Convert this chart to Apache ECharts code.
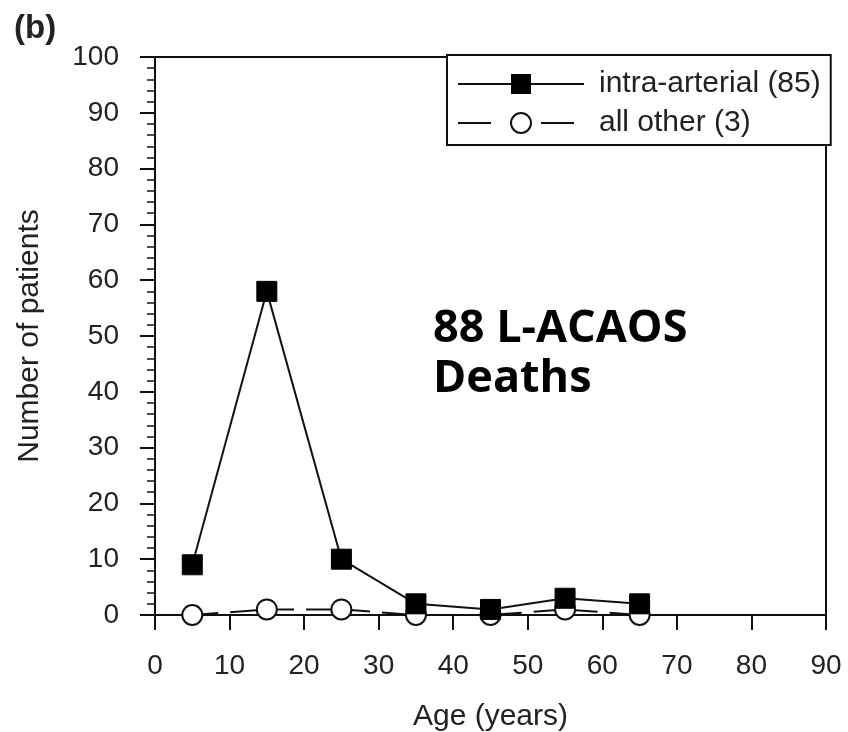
<!DOCTYPE html>
<html>
<head>
<meta charset="utf-8">
<script src="https://cdn.jsdelivr.net/npm/echarts@6/dist/echarts.min.js"></script>
<style>
  html, body { margin: 0; padding: 0; background: #fff; }
  #chart { width: 848px; height: 732px; }
</style>
</head>
<body>
<div id="chart"></div>
<script>
// age group midpoints (years)
const ages = [5, 15, 25, 35, 45, 55, 65];
const intraArterial = [9, 58, 10, 2, 1, 3, 2];
const allOther = [0, 1, 1, 0, 0, 1, 0];
const seriesNames = ['intra-arterial (85)', 'all other (3)'];

const pairs = (ys) => ages.map((a, i) => [a, ys[i]]);
const font = '"Liberation Sans", Arial, sans-serif';

const chart = echarts.init(document.getElementById('chart'));
chart.setOption({
  animation: false,
  grid: {
    left: 155, right: 22, top: 57, bottom: 117,
    outerBoundsMode: 'none',
    show: true, borderColor: '#111', borderWidth: 2, backgroundColor: 'transparent'
  },
  xAxis: {
    type: 'value', min: 0, max: 90, interval: 10,
    name: 'Age (years)', nameLocation: 'middle', nameGap: 87,
    nameTextStyle: { fontFamily: font, fontSize: 30, color: '#222' },
    axisLine: { lineStyle: { color: '#111', width: 2 } },
    axisTick: { length: 15, lineStyle: { color: '#111', width: 2 } },
    axisLabel: { fontFamily: font, fontSize: 28, color: '#222', margin: 37 },
    splitLine: { show: false }
  },
  yAxis: {
    type: 'value', min: 0, max: 100, interval: 10,
    name: 'Number of patients', nameLocation: 'middle', nameGap: 110,
    nameTextStyle: { fontFamily: font, fontSize: 30, color: '#222' },
    axisLine: { lineStyle: { color: '#111', width: 2 } },
    axisTick: { length: 15, lineStyle: { color: '#111', width: 2 } },
    minorTick: { show: true, splitNumber: 5, length: 8, lineStyle: { color: '#111', width: 1.5 } },
    axisLabel: { fontFamily: font, fontSize: 28, color: '#222', margin: 36 },
    splitLine: { show: false }
  },
  legend: {
    orient: 'vertical',
    left: 447, top: 55,
    padding: [14, 10, 7, 10],
    itemGap: 9,
    itemWidth: 126, itemHeight: 25,
    borderColor: '#111', borderWidth: 2, backgroundColor: '#fff',
    textStyle: { fontFamily: font, fontSize: 30, lineHeight: 30, color: '#222', padding: [0, 0, 0, 10] },
    data: [
      { name: seriesNames[0] },
      { name: seriesNames[1], lineStyle: { type: [33, 50] } }
    ]
  },
  series: [
    {
      name: seriesNames[0], type: 'line', data: pairs(intraArterial),
      symbol: 'rect', symbolSize: 20,
      itemStyle: { color: '#000', borderColor: '#000' },
      lineStyle: { color: '#111', width: 2 },
      z: 3
    },
    {
      name: seriesNames[1], type: 'line', data: pairs(allOther),
      symbol: 'circle', symbolSize: 20,
      itemStyle: { color: '#fff', borderColor: '#111', borderWidth: 2 },
      lineStyle: { color: '#111', width: 2, type: [26, 12] },
      z: 2
    }
  ],
  graphic: [
    {
      type: 'text', left: 14, top: 12,
      style: { text: '(b)', font: 'bold 33px ' + font, fill: '#222' }
    },
    {
      type: 'text', left: 433, top: 304,
      style: {
        text: '88 L-ACAOS\nDeaths', font: 'bold 45px "Open Sans", sans-serif',
        fill: '#000', lineHeight: 50
      }
    }
  ]
});
</script>
</body>
</html>
